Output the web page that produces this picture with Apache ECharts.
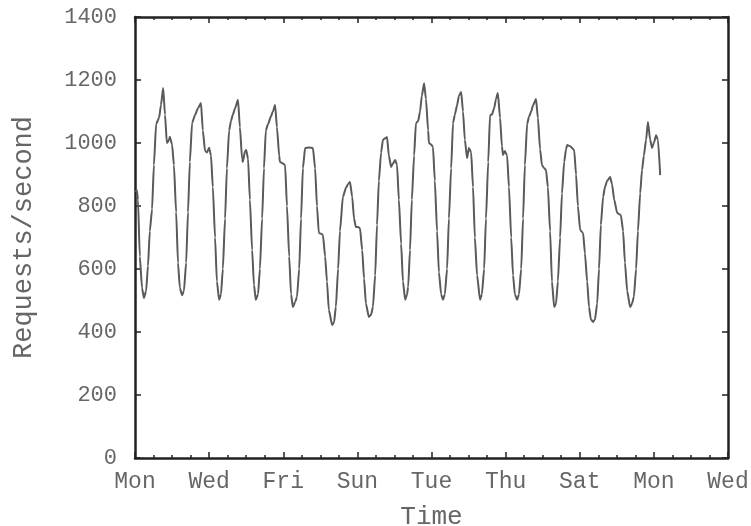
<!DOCTYPE html>
<html>
<head>
<meta charset="utf-8">
<script src="https://cdn.jsdelivr.net/npm/echarts@6/dist/echarts.min.js"></script>
<style>
  html, body { margin: 0; padding: 0; background: #fff; }
  #chart { width: 751px; height: 526px; }
</style>
</head>
<body>
<div id="chart"></div>
<script>
// Tick labels along the time axis (one every two days)
const dayLabels = ['Mon', 'Wed', 'Fri', 'Sun', 'Tue', 'Thu', 'Sat', 'Mon', 'Wed'];

// Elapsed time in days since Monday 00:00
const days = [
  0.00, 0.05, 0.08, 0.13, 0.19, 0.24, 0.30, 0.35, 0.40, 0.46, 0.51, 0.57, 0.65, 0.70, 0.76, 0.81, 0.86, 0.92, 0.94,
  1.00, 1.05, 1.11, 1.16, 1.21, 1.27, 1.32, 1.38, 1.43, 1.48, 1.54, 1.62, 1.70, 1.78, 1.83, 1.89, 1.94,
  2.00, 2.05, 2.10, 2.16, 2.21, 2.27, 2.32, 2.37, 2.43, 2.48, 2.54, 2.59, 2.64, 2.70, 2.78, 2.83, 2.89, 2.91, 2.97,
  3.00, 3.05, 3.10, 3.16, 3.21, 3.26, 3.32, 3.37, 3.43, 3.48, 3.53, 3.59, 3.67, 3.72, 3.78, 3.83, 3.89, 3.91, 3.99,
  4.05, 4.10, 4.16, 4.21, 4.26, 4.32, 4.37, 4.43, 4.48, 4.53, 4.59, 4.70, 4.80, 4.86, 4.91, 4.96,
  5.02, 5.07, 5.13, 5.18, 5.23, 5.32, 5.37, 5.42, 5.48, 5.53, 5.61, 5.69, 5.75, 5.80, 5.86, 5.91, 5.96,
  6.02, 6.07, 6.13, 6.18, 6.23, 6.31, 6.37, 6.42, 6.48, 6.53, 6.58, 6.64, 6.69, 6.75, 6.80, 6.85, 6.91, 6.96,
  7.02, 7.07, 7.12, 7.18, 7.23, 7.29, 7.34, 7.37, 7.42, 7.47, 7.53, 7.58, 7.64, 7.69, 7.74, 7.80, 7.85, 7.91, 7.93, 7.99,
  8.04, 8.09, 8.15, 8.20, 8.26, 8.31, 8.36, 8.42, 8.47, 8.53, 8.58, 8.63, 8.69, 8.74, 8.80, 8.85, 8.90, 8.96,
  9.01, 9.07, 9.12, 9.17, 9.23, 9.31, 9.36, 9.42, 9.47, 9.53, 9.58, 9.63, 9.69, 9.74, 9.79, 9.85, 9.90, 9.93, 9.98,
  10.04, 10.09, 10.15, 10.20, 10.25, 10.31, 10.36, 10.42, 10.47, 10.52, 10.58, 10.63, 10.69, 10.74, 10.82, 10.87, 10.93, 10.98,
  11.04, 11.09, 11.14, 11.20, 11.25, 11.31, 11.36, 11.41, 11.47, 11.52, 11.58, 11.63, 11.66, 11.74, 11.85, 11.90, 11.95,
  12.01, 12.09, 12.14, 12.20, 12.25, 12.30, 12.36, 12.41, 12.47, 12.52, 12.57, 12.63, 12.68, 12.74, 12.82, 12.87, 12.93,
  13.01, 13.11, 13.17, 13.22, 13.28, 13.36, 13.41, 13.46, 13.52, 13.57, 13.63, 13.68, 13.73, 13.79, 13.84, 13.90, 13.95,
  14.00, 14.06, 14.11, 14.17
];

// Request rate at each time stamp
const requestsPerSecond = [
  845, 850, 820, 640, 540, 508, 530, 610, 720, 790, 930, 1060, 1080, 1120, 1175, 1090, 1000, 1010, 1020,
  995, 930, 780, 620, 540, 517, 530, 620, 780, 940, 1063, 1089, 1110, 1127, 1040, 975, 970,
  985, 960, 860, 700, 560, 502, 520, 600, 760, 920, 1040, 1070, 1090, 1110, 1137, 1050, 950, 940, 975,
  978, 950, 820, 660, 550, 502, 520, 600, 760, 920, 1040, 1060, 1085, 1100, 1121, 1050, 960, 940, 935,
  930, 800, 640, 520, 479, 495, 511, 600, 760, 920, 984, 986, 984, 920, 800, 714,
  712, 708, 640, 560, 470, 422, 430, 480, 600, 720, 829, 857, 870, 876, 830, 760, 733,
  733, 730, 660, 570, 490, 448, 455, 480, 580, 740, 880, 970, 1010, 1015, 1019, 960, 924, 935,
  946, 930, 820, 680, 560, 502, 520, 543, 660, 820, 960, 1063, 1070, 1100, 1150, 1190, 1140, 1040, 1000, 995,
  987, 880, 720, 590, 520, 502, 520, 600, 760, 920, 1063, 1090, 1120, 1150, 1162, 1100, 1010, 952,
  984, 970, 860, 700, 580, 502, 520, 600, 760, 940, 1089, 1090, 1110, 1140, 1159, 1080, 990, 962, 975,
  960, 860, 700, 580, 520, 502, 520, 600, 760, 930, 1060, 1083, 1100, 1120, 1140, 1080, 980, 930,
  920, 914, 860, 720, 560, 479, 490, 560, 700, 840, 940, 980, 994, 990, 978, 900, 800,
  724, 714, 650, 560, 480, 440, 432, 440, 490, 600, 740, 829, 860, 880, 892, 870, 820,
  778, 771, 720, 620, 530, 479, 490, 511, 600, 720, 840, 914, 960, 1010, 1067, 1010, 984,
  1000, 1025, 1010, 898
];

const points = days.map((d, i) => [d, requestsPerSecond[i]]);

const frameColor = '#222';
const textColor = '#666';
const mono = 'Liberation Mono, DejaVu Sans Mono, monospace';

const xBase = {
  type: 'value', min: 0, max: 16, interval: 2,
  axisLine: { show: true, onZero: false, lineStyle: { color: frameColor, width: 2.5 } },
  axisTick: { show: true, inside: true, length: 6, lineStyle: { color: frameColor, width: 1.5 } },
  minorTick: { show: true, splitNumber: 4, length: 3, lineStyle: { color: frameColor, width: 1.5 } },
  splitLine: { show: false },
  minorSplitLine: { show: false }
};
const yBase = {
  type: 'value', min: 0, max: 1400, interval: 200,
  axisLine: { show: true, onZero: false, lineStyle: { color: frameColor, width: 2.5 } },
  axisTick: { show: true, inside: true, length: 6, lineStyle: { color: frameColor, width: 1.5 } },
  splitLine: { show: false }
};

const chart = echarts.init(document.getElementById('chart'), null, { renderer: 'canvas' });
chart.setOption({
  animation: false,
  backgroundColor: '#fff',
  grid: { left: 135, right: 23, top: 17, bottom: 68, containLabel: false, outerBoundsMode: 'none' },
  xAxis: [
    Object.assign({}, xBase, {
      position: 'bottom',
      axisLabel: {
        show: true, margin: 12, color: textColor, fontFamily: mono, fontSize: 23,
        formatter: v => dayLabels[Math.round(v / 2)]
      },
      name: 'Time', nameLocation: 'middle', nameGap: 46,
      nameTextStyle: { color: textColor, fontFamily: mono, fontSize: 26 }
    }),
    Object.assign({}, xBase, { position: 'top', axisLabel: { show: false } })
  ],
  yAxis: [
    Object.assign({}, yBase, {
      position: 'left',
      axisLabel: {
        show: true, margin: 18, color: textColor, fontFamily: mono, fontSize: 22,
        formatter: v => String(v)
      },
      name: 'Requests/second', nameLocation: 'middle', nameGap: 98, nameRotate: 90,
      nameTextStyle: { color: textColor, fontFamily: mono, fontSize: 27 }
    }),
    Object.assign({}, yBase, { position: 'right', axisLabel: { show: false } })
  ],
  series: [{
    type: 'line',
    xAxisIndex: 0,
    yAxisIndex: 0,
    data: points,
    showSymbol: false,
    smooth: 0.2,
    smoothMonotone: 'x',
    lineStyle: { color: '#5a5a5a', width: 2 }
  }]
});
</script>
</body>
</html>
